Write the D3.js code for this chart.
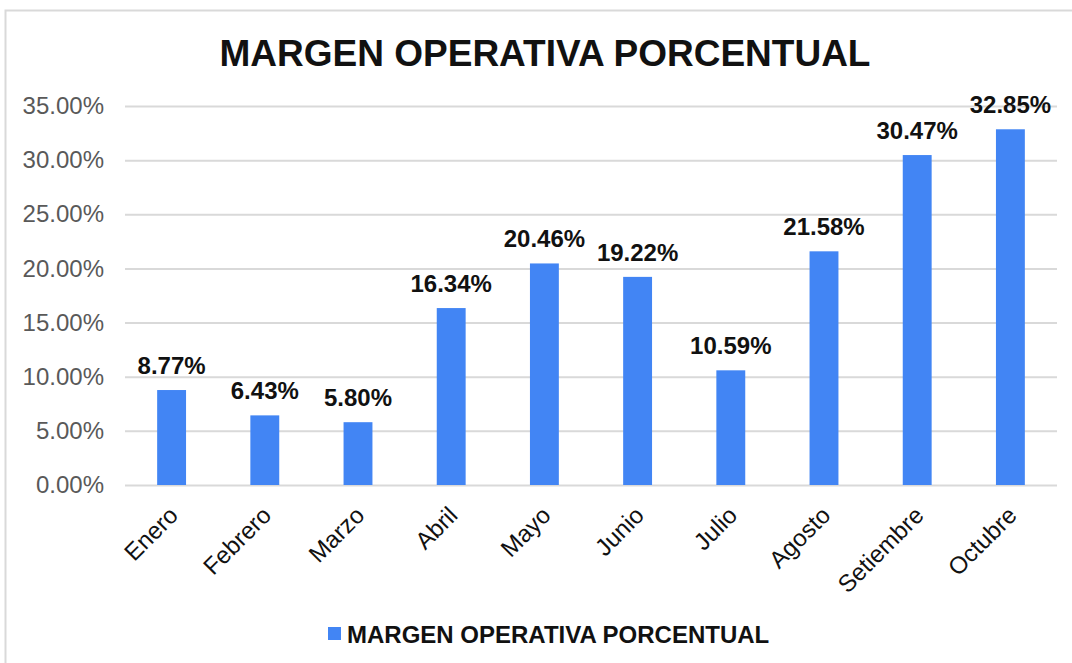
<!DOCTYPE html>
<html>
<head>
<meta charset="utf-8">
<script src="https://cdn.jsdelivr.net/npm/d3@7"></script>
<style>
  body { margin: 0; background: #fff; }
  text { font-family: "Liberation Sans", Arial, sans-serif; }
</style>
</head>
<body>
<svg id="chart" width="1072" height="663"></svg>
<script>
const months = ['Enero', 'Febrero', 'Marzo', 'Abril', 'Mayo', 'Junio', 'Julio', 'Agosto', 'Setiembre', 'Octubre'];
const margen = [0.0877, 0.0643, 0.0580, 0.1634, 0.2046, 0.1922, 0.1059, 0.2158, 0.3047, 0.3285];
const yTicks = [0, 0.05, 0.10, 0.15, 0.20, 0.25, 0.30, 0.35];
const seriesName = 'MARGEN OPERATIVA PORCENTUAL';
const barColor = '#4285f4';

const svg = d3.select('#chart');

// chart area border
svg.append('rect')
    .attr('x', 5.5).attr('y', 10.5)
    .attr('width', 1100).attr('height', 700)
    .attr('fill', 'none')
    .attr('stroke', '#d9d9d9')
    .attr('stroke-width', 2);

const x = d3.scaleBand()
    .domain(months)
    .range([125, 1057])
    .paddingInner(0.69)
    .paddingOuter(0.345);

const y = d3.scaleLinear()
    .domain([0, 0.35])
    .range([485, 106]);

// title
svg.append('text')
    .attr('x', 545).attr('y', 66)
    .attr('text-anchor', 'middle')
    .style('font-size', '37px')
    .style('font-weight', 'bold')
    .style('fill', '#111')
    .text(seriesName);

// gridlines + y labels
const yAxis = svg.append('g')
    .attr('transform', 'translate(125,0)')
    .call(d3.axisLeft(y).tickValues(yTicks).tickSize(-932).tickPadding(21)
        .tickFormat(d => (d * 100).toFixed(2) + '%'));
yAxis.select('.domain').remove();
yAxis.selectAll('line').attr('stroke', '#d9d9d9').attr('stroke-width', 2);
yAxis.selectAll('text')
    .style('font-size', '24px')
    .style('fill', '#595959');

// bars
svg.selectAll('.bar')
    .data(months)
    .enter().append('rect')
    .attr('class', 'bar')
    .attr('x', d => x(d))
    .attr('width', x.bandwidth())
    .attr('y', (d, i) => y(margen[i]))
    .attr('height', (d, i) => y(0) - y(margen[i]))
    .attr('fill', barColor);

// value labels
svg.selectAll('.val')
    .data(months)
    .enter().append('text')
    .attr('class', 'val')
    .attr('x', d => x(d) + x.bandwidth() / 2)
    .attr('y', (d, i) => y(margen[i]) - 16)
    .attr('text-anchor', 'middle')
    .style('font-size', '24px')
    .style('font-weight', 'bold')
    .style('fill', '#111')
    .text((d, i) => (margen[i] * 100).toFixed(2) + '%');

// x labels, rotated
svg.selectAll('.xl')
    .data(months)
    .enter().append('text')
    .attr('class', 'xl')
    .attr('transform', d => `translate(${x(d) + x.bandwidth() / 2 - 4}, 505) rotate(-45)`)
    .attr('text-anchor', 'end')
    .attr('dy', '0.7em')
    .style('font-size', '24px')
    .style('fill', '#111')
    .text(d => d);

// legend
const legend = svg.append('g').attr('transform', 'translate(328,643)');
legend.append('rect')
    .attr('x', 0).attr('y', -16)
    .attr('width', 13).attr('height', 13)
    .attr('fill', barColor);
legend.append('text')
    .attr('x', 19).attr('y', 0)
    .style('font-size', '24px')
    .style('font-weight', 'bold')
    .style('fill', '#111')
    .text(seriesName);
</script>
</body>
</html>
